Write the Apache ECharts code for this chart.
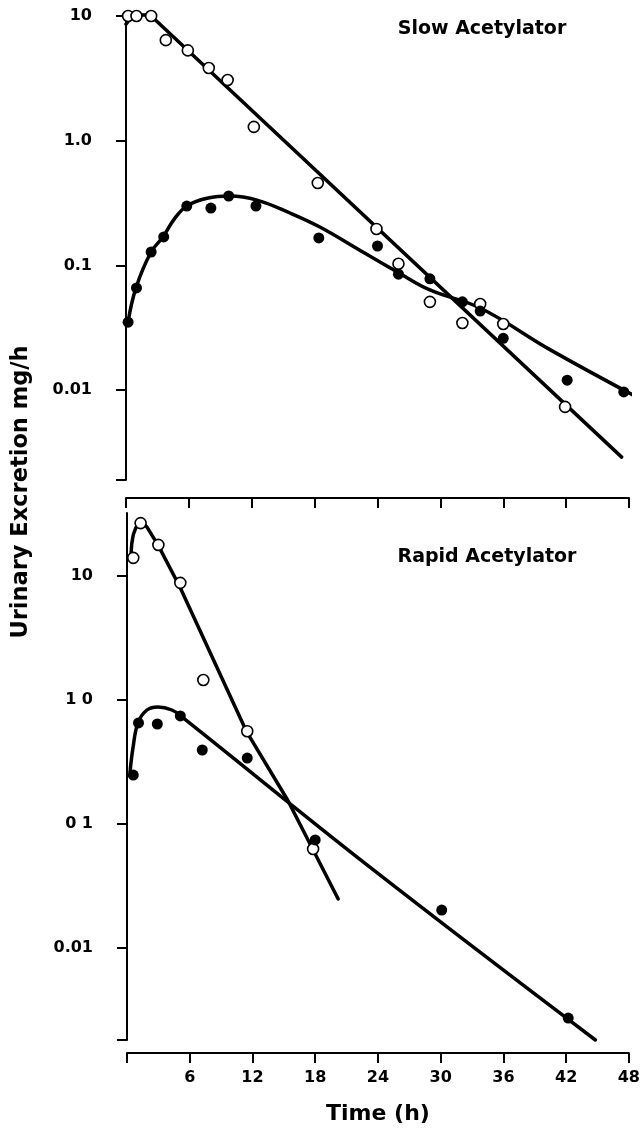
<!DOCTYPE html>
<html>
<head>
<meta charset="utf-8">
<script src="https://cdn.jsdelivr.net/npm/echarts@6/dist/echarts.min.js"></script>
<style>html,body{margin:0;padding:0;background:#fff;}#c{width:643px;height:1128px;}</style>
</head>
<body>
<div id="c"></div>
<script>
// ---- tick definitions ----
const xTicks = [0, 6, 12, 18, 24, 30, 36, 42, 48];
const topYTicks = [0.0019, 0.01, 0.1, 1, 10];
const topYLabelValues = [0.01, 0.1, 1, 10];
const topYLabelText = ['0.01', '0.1', '1.0', '10'];
const botYTicks = [0.00181, 0.01, 0.1, 1, 10];
const botYLabelValues = [0.01, 0.1, 1, 10];
const botYLabelText = ['0.01', '0 1', '1 0', '10'];

// ---- Slow acetylator (top) : observed points [time h, mg/h] ----
const slowOpen = [[0.2,10],[1.0,10],[2.4,10],[3.8,6.4],[5.9,5.3],[7.9,3.83],[9.7,3.07],[12.2,1.29],[18.3,0.458],[23.9,0.196],[26.0,0.103],[29.0,0.051],[32.1,0.0345],[33.8,0.049],[36.0,0.0339],[41.9,0.00733]];
const slowFilled = [[0.2,0.035],[1.0,0.066],[2.4,0.128],[3.6,0.169],[5.8,0.299],[8.1,0.288],[9.8,0.36],[12.4,0.299],[18.4,0.166],[24.0,0.143],[26.0,0.085],[29.0,0.078],[32.1,0.051],[33.8,0.043],[36.0,0.026],[42.1,0.012],[47.5,0.00966]];
// fitted curves
const slowOpenFit = [[0.0,8.6],[0.3,9.3],[0.7,9.9],[1.3,10.2],[2.3,10.2],[47.3,0.0029]];
const slowFilledFit = [[0.19,0.035],[0.95,0.066],[2.39,0.128],[3.53,0.169],[4.6,0.235],[5.82,0.3],[7.73,0.345],[9.92,0.36],[12.5,0.334],[15.65,0.263],[18.5,0.203],[22.6,0.128],[25.9,0.0885],[29.0,0.0635],[33.8,0.0455],[40.5,0.021],[48.9,0.00865]];

// ---- Rapid acetylator (bottom) ----
const rapidOpen = [[0.6,14.0],[1.3,26.7],[3.0,17.8],[5.1,8.8],[7.3,1.45],[11.5,0.56],[17.8,0.0628]];
const rapidFilled = [[0.6,0.248],[1.1,0.653],[2.9,0.64],[5.1,0.743],[7.2,0.395],[11.5,0.34],[18.0,0.0743],[30.1,0.0202],[42.2,0.00272]];
const rapidOpenFit = [[0.38,14.8],[0.45,18.0],[0.6,21.5],[0.85,24.5],[1.24,26.7],[1.6,26.2],[1.91,24.8],[2.96,17.8],[5.06,8.15],[11.45,0.552],[15.36,0.156],[20.2,0.0248]];
const rapidFilledFit = [[0.29,0.262],[0.57,0.41],[1.05,0.653],[1.91,0.83],[2.96,0.879],[4.29,0.83],[5.25,0.73],[23.2,0.045],[44.8,0.00181]];

const FONT = 'DejaVu Sans';
const chart = echarts.init(document.getElementById('c'), null, {renderer: 'canvas'});

function fmt(values, texts) {
  return function (v) {
    for (let i = 0; i < values.length; i++) {
      if (Math.abs(Math.log10(v) - Math.log10(values[i])) < 1e-6) return texts[i];
    }
    return '';
  };
}

const lineStyleFit = {color: '#000', width: 3.5, join: 'round', cap: 'round'};
const openItem = {color: '#fff', borderColor: '#000', borderWidth: 1.6, opacity: 1};
const filledItem = {color: '#000', opacity: 1};

function xAxisBase(gridIndex, offset, showLabels) {
  return {
    type: 'value', gridIndex: gridIndex, min: xTicks[0], max: xTicks[xTicks.length - 1], interval: xTicks[1] - xTicks[0], offset: offset,
    axisLine: {show: true, onZero: false, lineStyle: {color: '#000', width: 2}},
    axisTick: {show: true, inside: false, length: 10, lineStyle: {color: '#000', width: 2}},
    axisLabel: {show: showLabels, margin: 17, color: '#000', fontFamily: FONT, fontWeight: 'bold', fontSize: 16,
      formatter: function (v) { return v === 0 ? '' : String(v); }},
    splitLine: {show: false},
    name: showLabels ? 'Time (h)' : '', nameLocation: 'middle', nameGap: 50,
    nameTextStyle: {color: '#000', fontFamily: FONT, fontWeight: 'bold', fontSize: 22}
  };
}

function yAxisBase(gridIndex, min, max, offset, margin, ticks, lv, lt) {
  return {
    type: 'log', logBase: 10, gridIndex: gridIndex, min: min, max: max, offset: offset,
    axisLine: {show: true, lineStyle: {color: '#000', width: 2}},
    axisTick: {show: true, inside: false, length: 10, customValues: ticks, lineStyle: {color: '#000', width: 2}},
    axisLabel: {show: true, margin: margin, customValues: lv, color: '#000', fontFamily: FONT, fontWeight: 'bold', fontSize: 16,
      formatter: fmt(lv, lt)},
    splitLine: {show: false},
    minorTick: {show: false}
  };
}

const option = {
  backgroundColor: '#fff',
  animation: false,
  grid: [
    {left: 126, right: 14, top: 16, height: 464},
    {left: 127, right: 13, top: 513, height: 527}
  ],
  xAxis: [xAxisBase(0, 18, false), xAxisBase(1, 13, true)],
  yAxis: [
    yAxisBase(0, 0.0019, 10, 17, 17, topYTicks, topYLabelValues, topYLabelText),
    yAxisBase(1, 0.00181, 32.2, 14, 20, botYTicks, botYLabelValues, botYLabelText)
  ],
  graphic: [
    {type: 'text', x: 482, y: 29, style: {text: 'Slow Acetylator', fill: '#000', font: 'bold 19px "DejaVu Sans"', align: 'center', verticalAlign: 'middle'}},
    {type: 'text', x: 487, y: 557, style: {text: 'Rapid Acetylator', fill: '#000', font: 'bold 19px "DejaVu Sans"', align: 'center', verticalAlign: 'middle'}},
    {type: 'text', x: 21, y: 492, rotation: Math.PI / 2, style: {text: 'Urinary Excretion mg/h', fill: '#000', font: 'bold 22.5px "DejaVu Sans"', align: 'center', verticalAlign: 'middle'}}
  ],
  series: [
    {type: 'line', xAxisIndex: 0, yAxisIndex: 0, data: slowOpenFit, showSymbol: false, smooth: false, clip: false, lineStyle: lineStyleFit, z: 2},
    {type: 'line', xAxisIndex: 0, yAxisIndex: 0, data: slowFilledFit, showSymbol: false, smooth: 0.4, clip: false, lineStyle: lineStyleFit, z: 2},
    {type: 'line', xAxisIndex: 1, yAxisIndex: 1, data: rapidOpenFit, showSymbol: false, smooth: false, clip: false, lineStyle: lineStyleFit, z: 2},
    {type: 'line', xAxisIndex: 1, yAxisIndex: 1, data: rapidFilledFit, showSymbol: false, smooth: 0.4, clip: false, lineStyle: lineStyleFit, z: 2},
    {type: 'scatter', xAxisIndex: 0, yAxisIndex: 0, data: slowOpen, symbol: 'circle', symbolSize: 11, itemStyle: openItem, z: 5},
    {type: 'scatter', xAxisIndex: 0, yAxisIndex: 0, data: slowFilled, symbol: 'circle', symbolSize: 11, itemStyle: filledItem, z: 5},
    {type: 'scatter', xAxisIndex: 1, yAxisIndex: 1, data: rapidOpen, symbol: 'circle', symbolSize: 11, itemStyle: openItem, z: 5},
    {type: 'scatter', xAxisIndex: 1, yAxisIndex: 1, data: rapidFilled, symbol: 'circle', symbolSize: 11, itemStyle: filledItem, z: 5}
  ]
};
chart.setOption(option);
</script>
</body>
</html>
